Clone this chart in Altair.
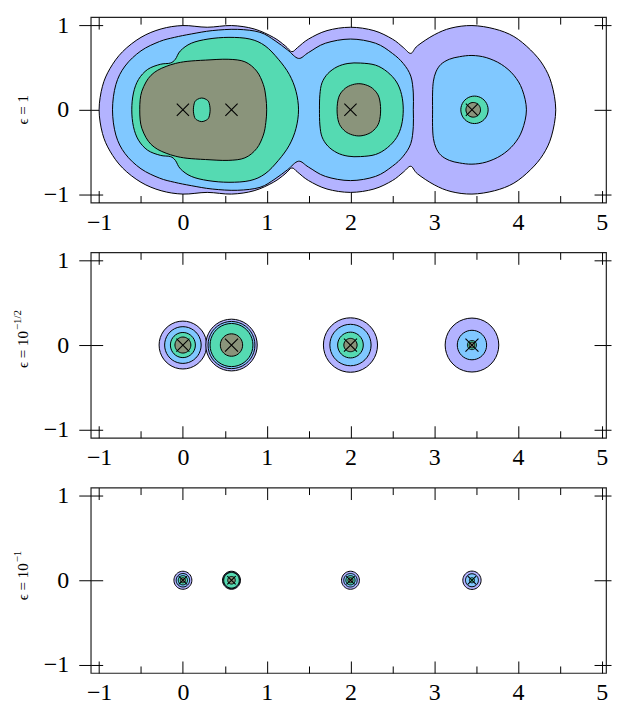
import math
import altair as alt
import pandas as pd

# ---------------- data ----------------
EIGS = [0.0, 0.58, 2.0, 3.45]
X_MAJOR = [-1, 0, 1, 2, 3, 4, 5]
X_MINOR = [-0.5, 0.5, 1.5, 2.5, 3.5, 4.5]
Y_MAJOR = [-1, 0, 1]

LEVEL_COLORS = ["#b3b3ff", "#80c8ff", "#55dab2", "#8a947b", "#55dab2"]

# panel 1 (eps = 1): upper halves of the contour outlines (mirrored below)
P1_L1_X = [-1.0, -0.96, -0.87, -0.72, -0.5, -0.26, 0.0, 0.29, 0.58, 0.85, 1.08, 1.22, 1.3, 1.37, 1.5, 1.72, 2.0, 2.28, 2.5, 2.63, 2.72, 2.8, 3.0, 3.2, 3.45, 3.72, 3.95, 4.15, 4.3, 4.4, 4.45]
P1_L1_Y = [0.0, 0.28, 0.49, 0.69, 0.86, 0.96, 1.0, 0.98, 1.0, 0.96, 0.86, 0.76, 0.69, 0.74, 0.84, 0.94, 0.98, 0.94, 0.84, 0.74, 0.67, 0.76, 0.89, 0.97, 1.0, 0.96, 0.87, 0.71, 0.53, 0.31, 0.0]

P1_L2A_X = [-0.84, -0.8, -0.69, -0.5, -0.28, -0.1, 0.1, 0.35, 0.65, 0.92, 1.1, 1.25, 1.38, 1.5, 1.7, 2.0, 2.3, 2.5, 2.63, 2.72, 2.75, 2.75]
P1_L2A_Y = [0.0, 0.3, 0.52, 0.7, 0.81, 0.86, 0.9, 0.94, 0.955, 0.92, 0.82, 0.71, 0.61, 0.68, 0.79, 0.84, 0.79, 0.67, 0.55, 0.4, 0.2, 0.0]
P1_L2B_X = [2.98, 2.98, 2.99, 3.02, 3.08, 3.18, 3.3, 3.45, 3.62, 3.8, 3.95, 4.05, 4.1]
P1_L2B_Y = [0.0, 0.2, 0.34, 0.45, 0.54, 0.6, 0.63, 0.645, 0.62, 0.54, 0.41, 0.24, 0.0]

P1_L3A_X = [-0.61, -0.59, -0.53, -0.42, -0.27, -0.15, -0.09, -0.03, 0.1, 0.3, 0.55, 0.8, 0.98, 1.14, 1.27, 1.35, 1.38]
P1_L3A_Y = [0.0, 0.2, 0.36, 0.48, 0.54, 0.555, 0.6, 0.7, 0.79, 0.84, 0.86, 0.84, 0.76, 0.6, 0.42, 0.22, 0.0]
P1_L3B_X = [1.63, 1.635, 1.66, 1.73, 1.84, 1.97, 2.12, 2.3, 2.44, 2.55, 2.61, 2.63]
P1_L3B_Y = [0.0, 0.18, 0.32, 0.43, 0.51, 0.55, 0.555, 0.53, 0.45, 0.33, 0.18, 0.0]
P1_L3C = (3.48, 0.163)  # centre, radius

P1_L4A_X = [-0.515, -0.51, -0.49, -0.44, -0.38, -0.3, -0.2, -0.09, 0.05, 0.27, 0.54, 0.74, 0.88, 0.96, 0.99, 1.0]
P1_L4A_Y = [0.0, 0.12, 0.22, 0.33, 0.41, 0.47, 0.515, 0.55, 0.575, 0.59, 0.6, 0.57, 0.46, 0.3, 0.15, 0.0]
P1_L4B_X = [1.84, 1.86, 1.92, 2.0, 2.1, 2.2, 2.28, 2.34, 2.36]
P1_L4B_Y = [0.0, 0.15, 0.24, 0.29, 0.31, 0.29, 0.24, 0.15, 0.0]
P1_L4C = (3.465, 0.087)

P1_L5_X = [0.125, 0.14, 0.175, 0.225, 0.275, 0.31, 0.325]
P1_L5_Y = [0.0, 0.09, 0.125, 0.14, 0.125, 0.09, 0.0]

# panels 2 and 3: radii of the (circular) contours around each eigenvalue
P2_R = [
    [0.284, 0.307, 0.323, 0.32],   # purple
    [0.218, 0.28, 0.246, 0.175],   # blue
    [0.149, 0.256, 0.153, 0.054],  # green
    [0.095, 0.133, 0.079, 0.034],  # olive
]
P3_R = [
    [0.107, 0.107, 0.107, 0.109],
    [0.08, 0.1, 0.08, 0.077],
    [0.055, 0.093, 0.055, 0.03],
    [0.03, 0.045, 0.03, 0.0],
]

# ---------------- build tables ----------------
rows = []


def add_upper(panel, level, name, xs, ys):
    pts = list(zip(xs, ys))
    pts = pts + [(x, -y) for x, y in reversed(pts[1:-1])]
    for i, (x, y) in enumerate(pts):
        rows.append(dict(panel=panel, level=level, shape=name, i=i, x=x, y=y))


def add_circle(panel, level, name, cx, r, n=40):
    if r <= 0:
        return
    for k in range(n):
        t = 2 * math.pi * k / n
        rows.append(dict(panel=panel, level=level, shape=name, i=k,
                         x=cx + r * math.cos(t), y=r * math.sin(t)))


add_upper(1, 0, "a", P1_L1_X, P1_L1_Y)
add_upper(1, 1, "a", P1_L2A_X, P1_L2A_Y)
add_upper(1, 1, "b", P1_L2B_X, P1_L2B_Y)
add_upper(1, 2, "a", P1_L3A_X, P1_L3A_Y)
add_upper(1, 2, "b", P1_L3B_X, P1_L3B_Y)
add_circle(1, 2, "c", *P1_L3C)
add_upper(1, 3, "a", P1_L4A_X, P1_L4A_Y)
add_upper(1, 3, "b", P1_L4B_X, P1_L4B_Y)
add_circle(1, 3, "c", *P1_L4C)
add_upper(1, 4, "a", P1_L5_X, P1_L5_Y)
for p, R in ((2, P2_R), (3, P3_R)):
    for lvl, radii in enumerate(R):
        for j, (cx, r) in enumerate(zip(EIGS, radii)):
            add_circle(p, lvl, f"e{j}", cx, r)

df = pd.DataFrame(rows)
eig_df = pd.DataFrame({"x": EIGS, "y": [0.0] * len(EIGS)})
dummy = pd.DataFrame({"x": [0.0], "y": [0.0]})

XS = alt.Scale(domain=[-1.1, 5.05], nice=False, zero=False)
YS = alt.Scale(domain=[-1.1, 1.1], nice=False, zero=False)
W, H = 517, 186
FONT = "Liberation Serif, DejaVu Serif, serif"
XPATH = "M-1,-1L1,1M-1,1L1,-1"
MAJ, MIN, YT, YTR = 12, 7, 12, 5


def ax(orient, values, **kw):
    base = dict(orient=orient, values=values, grid=False, domain=False,
                tickColor="black", tickWidth=1, labelColor="black",
                labelFont=FONT, labelFontSize=24, title=None,
                minExtent=0, maxExtent=200)
    base.update(kw)
    return alt.Axis(**base)


def axis_layer(xaxis, yaxis):
    return alt.Chart(dummy).mark_point(opacity=0).encode(
        x=alt.X("x:Q", scale=XS, axis=xaxis),
        y=alt.Y("y:Q", scale=YS, axis=yaxis),
    )


def panel(p, main, sup, msize):
    sub = df[df.panel == p]
    layers = []
    for lvl, color in enumerate(LEVEL_COLORS):
        d = sub[sub.level == lvl]
        if d.empty:
            continue
        layers.append(
            alt.Chart(d).mark_line(interpolate="cardinal-closed", fill=color,
                                   stroke="black", strokeWidth=1)
            .encode(x=alt.X("x:Q", scale=XS, axis=None),
                    y=alt.Y("y:Q", scale=YS, axis=None),
                    detail="shape:N", order="i:Q")
        )
    layers.append(
        alt.Chart(eig_df).mark_point(shape=XPATH, size=msize, filled=False,
                                     stroke="black", strokeWidth=1.1, opacity=1)
        .encode(x=alt.X("x:Q", scale=XS, axis=None),
                y=alt.Y("y:Q", scale=YS, axis=None))
    )
    # axes: labels + outer y ticks
    layers.append(axis_layer(
        ax("bottom", X_MAJOR, ticks=False, labelPadding=8, format="d"),
        ax("left", Y_MAJOR, tickSize=YT, labelPadding=10, format="d")))
    layers.append(axis_layer(
        ax("bottom", X_MAJOR, offset=-MAJ, tickSize=MAJ, labels=False),
        ax("left", Y_MAJOR, offset=-YT, tickSize=YT, labels=False)))
    layers.append(axis_layer(
        ax("bottom", X_MINOR, offset=-MIN, tickSize=MIN, labels=False),
        ax("right", Y_MAJOR, tickSize=YTR, labels=False)))
    layers.append(axis_layer(
        ax("top", X_MAJOR, offset=-MAJ, tickSize=MAJ, labels=False),
        ax("right", Y_MAJOR, offset=-YT, tickSize=YT, labels=False)))
    layers.append(axis_layer(
        ax("top", X_MINOR, offset=-MIN, tickSize=MIN, labels=False), None))
    # rotated y title
    tx = -68
    if sup:
        anchor = H / 2 - (14 if sup == "−1/2" else 17)
        layers.append(alt.Chart(pd.DataFrame({"t": [main]})).mark_text(
            angle=270, align="right", baseline="middle", font=FONT, fontSize=15, color="black")
            .encode(text="t:N", x=alt.value(tx), y=alt.value(anchor)))
        layers.append(alt.Chart(pd.DataFrame({"t": [sup]})).mark_text(
            angle=270, align="left", baseline="middle", font=FONT, fontSize=11, color="black")
            .encode(text="t:N", x=alt.value(tx - 5), y=alt.value(anchor - 1)))
    else:
        layers.append(alt.Chart(pd.DataFrame({"t": [main]})).mark_text(
            angle=270, align="center", baseline="middle", font=FONT, fontSize=15, color="black")
            .encode(text="t:N", x=alt.value(tx), y=alt.value(H / 2)))
    return alt.layer(*layers).properties(width=W, height=H).resolve_axis(
        x="independent", y="independent")


chart = alt.vconcat(
    panel(1, "ϵ  =  1", None, 150),
    panel(2, "ϵ  =  10", "−1/2", 170),
    panel(3, "ϵ  =  10", "−1", 70),
    spacing=50, bounds="flush",
).properties(padding={"left": 3, "top": 3, "right": 0, "bottom": 0}).configure_view(
    stroke="#222", strokeWidth=1.2)

chart.save("out.html", embed_options={"renderer": "svg", "actions": False})
